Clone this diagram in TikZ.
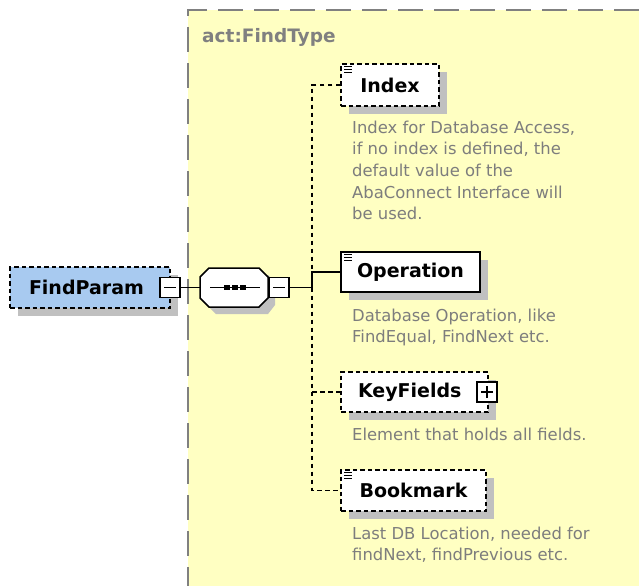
\documentclass[tikz,border=0pt]{standalone}
\usepackage{fontspec}
\setmainfont{DejaVu Sans}
\usetikzlibrary{shadows}
\definecolor{bgyellow}{RGB}{255,255,194}
\definecolor{regionline}{RGB}{128,128,128}
\definecolor{paramblue}{RGB}{168,202,240}
\definecolor{shadowgray}{RGB}{192,192,192}
\definecolor{desctext}{RGB}{125,125,125}
\tikzset{
  elemshadow/.style={drop shadow={shadow xshift=8pt,shadow yshift=-8pt,fill=shadowgray,opacity=1}},
  elem/.style={rectangle,inner sep=0pt,fill=white,text=black,elemshadow,
    font=\fontsize{19}{22}\selectfont\bfseries},
  optbox/.style={elem,draw=black,line width=1.3pt,dash pattern=on 4.5pt off 3pt},
  reqbox/.style={elem,draw=black,line width=1.8pt},
  togglebox/.style={rectangle,draw=black,fill=white,line width=1.2pt,minimum size=20pt,inner sep=0pt},
  conn/.style={draw=black,line width=1.4pt},
  optconn/.style={draw=black,line width=1.4pt,dash pattern=on 4.5pt off 3.5pt},
  desc/.style={anchor=base west,inner sep=0pt,text=desctext,font=\fontsize{16.4}{21.7}\selectfont},
  typelabel/.style={anchor=base west,inner sep=0pt,text=regionline,font=\fontsize{18.5}{22}\selectfont\bfseries},
  regionborder/.style={draw=regionline,line width=2pt,dash pattern=on 25pt off 11pt},
}
% draws the small "documented" marker in a box's top-left corner
\newcommand{\docmark}[1]{%
  \foreach \dy in {0,3,6}{\draw[line width=0.9pt] ([shift={(4,3+\dy)}]#1.north west) -- ([shift={(12,3+\dy)}]#1.north west);}}
\begin{document}
\begin{tikzpicture}[x=1pt,y=-1pt]
\useasboundingbox (0,0) rectangle (639,586);

% complex type region
\fill[bgyellow] (188,10) rectangle (639,586);
\draw[regionborder] (639,10) -- (188,10) -- (188,586);
\node[typelabel] (typename) at (202,43) {act:FindType};

% root element
\node[optbox,fill=paramblue,minimum width=160pt,minimum height=41pt,text width=160pt,align=left] (fp) at (90,287.5) {\hspace*{19pt}FindParam};
\node[togglebox] (fpm) at (170,287.5) {};
\draw[line width=1.2pt] ([xshift=-6pt]fpm.center) -- ([xshift=6pt]fpm.center);

% sequence compositor
\coordinate (seq) at (234,287.5);
\fill[shadowgray] (216,275) -- (268,275) -- (275,282) -- (275,305) -- (268,314) -- (216,314) -- (207,305) -- cycle;
\draw[line width=1.5pt,fill=white] (209,268) -- (259,268) -- (268,277) -- (268,298) -- (259,307) -- (209,307) -- (200,298) -- (200,277) -- cycle;
\draw[line width=1.4pt] (210,287.5) -- (260,287.5);
\foreach \sx in {227,235,243}{\fill (\sx-2.7,284.8) rectangle (\sx+2.7,290.2);}
\node[togglebox] (seqm) at (279,287.5) {};
\draw[line width=1.2pt] ([xshift=-6pt]seqm.center) -- ([xshift=6pt]seqm.center);
\draw[conn] (fpm.east) -- (200,287.5);

% child elements
\node[optbox,minimum width=98pt,minimum height=42pt] (idx) at (390,85) {Index};
\docmark{idx}
\node[reqbox,minimum width=139pt,minimum height=40pt] (op) at (410.5,272) {Operation};
\docmark{op}
\node[optbox,minimum width=147pt,minimum height=40pt,text width=147pt,align=left] (key) at (414.5,392) {\hspace*{17pt}KeyFields};
\node[togglebox] (keyp) at (487,392) {};
\draw[line width=1.2pt] ([xshift=-6pt]keyp.center) -- ([xshift=6pt]keyp.center);
\draw[line width=1.2pt] ([yshift=-6pt]keyp.center) -- ([yshift=6pt]keyp.center);
\node[optbox,minimum width=145pt,minimum height=41pt] (bm) at (413.5,490.5) {Bookmark};
\docmark{bm}

% connectors from the compositor to the children
\coordinate (jtop) at (312,85);
\coordinate (jop) at (312,272);
\coordinate (jmain) at (312,287.5);
\coordinate (jkey) at (312,392);
\coordinate (jbm) at (312,490.5);
\draw[conn] (seqm.east) -- (jmain);
\draw[optconn] (idx.west) -- (jtop) -- (jop);
\draw[conn] (op.west) -- (jop) -- (jmain);
\draw[optconn] (jmain) -- (jbm) -- (bm.west);
\draw[optconn] (jkey) -- (key.west);

% annotations
\node[desc] (d1a) at (352,133) {Index for Database Access,};
\node[desc] (d1b) at (352,154.7) {if no index is defined, the};
\node[desc] (d1c) at (352,176.4) {default value of the};
\node[desc] (d1d) at (352,198.1) {AbaConnect Interface will};
\node[desc] (d1e) at (352,219.8) {be used.};
\node[desc] (d2a) at (352,321) {Database Operation, like};
\node[desc] (d2b) at (352,342.7) {FindEqual, FindNext etc.};
\node[desc] (d3a) at (352,440.7) {Element that holds all fields.};
\node[desc] (d4a) at (352,539) {Last DB Location, needed for};
\node[desc] (d4b) at (352,560.7) {findNext, findPrevious etc.};
\end{tikzpicture}
\end{document}
